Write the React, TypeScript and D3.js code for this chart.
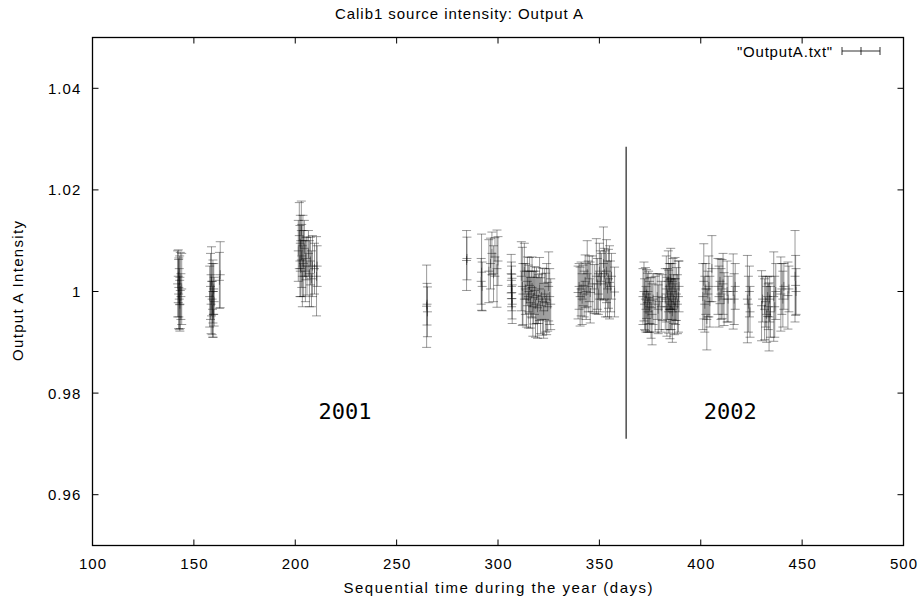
import React from 'react';
import * as d3 from 'd3';

// ---- axis definitions ----
const xDomain: [number, number] = [100, 500];
const yDomain: [number, number] = [0.95, 1.05];
const xTicks = [100, 150, 200, 250, 300, 350, 400, 450, 500];
const yTicks = [0.96, 0.98, 1.0, 1.02, 1.04];
const yTickLabels = ['0.96', '0.98', '1', '1.02', '1.04'];

const titleText = 'Calib1 source intensity: Output A';
const xLabel = 'Sequential time during the year (days)';
const yLabel = 'Output A Intensity';
const legendLabel = '"OutputA.txt"';

// year boundary marker and year annotations
const separator = { day: 363.2, from: 0.971, to: 1.0285 };
const yearLabels = [
  { text: '2001', day: 224.5, value: 0.9763 },
  { text: '2002', day: 414.5, value: 0.9763 },
];

// ---- observations: [day, intensity, error] ----
const obs2001: [number, number, number][] = [
  [142.0, 1.0015, 0.0065], [142.3, 1.003, 0.0052], [142.5, 0.9995, 0.0068], [142.6, 1.0008, 0.0058],
  [142.8, 0.9985, 0.006], [143.0, 1.0022, 0.0048], [143.1, 0.9975, 0.0053], [143.3, 1.0002, 0.0075],
  [143.6, 0.999, 0.0045], [144.0, 1.0005, 0.007],
  [157.8, 0.999, 0.006], [158.2, 1.001, 0.0065], [158.5, 0.9975, 0.0058], [158.7, 1.002, 0.0068],
  [159.0, 0.9985, 0.007], [159.2, 0.9965, 0.0055], [159.4, 1.0, 0.0062], [159.6, 0.9955, 0.0045],
  [159.8, 1.0005, 0.005], [160.0, 0.998, 0.0048], [163.0, 1.0033, 0.0065], [162.6, 1.0022, 0.0055],
  [201.5, 1.008, 0.006], [202.0, 1.011, 0.0065], [202.3, 1.006, 0.007], [202.5, 1.0095, 0.0055],
  [202.7, 1.0045, 0.0055], [203.0, 1.012, 0.0058], [203.2, 1.007, 0.0062], [203.5, 1.003, 0.006],
  [203.8, 1.01, 0.005], [204.0, 1.0055, 0.0065], [204.5, 1.0085, 0.0055], [205.0, 1.004, 0.006],
  [205.3, 1.0065, 0.0042], [205.8, 1.005, 0.0057], [206.5, 1.0075, 0.0045], [207.0, 1.0035, 0.0065],
  [207.5, 1.006, 0.0047], [208.0, 1.0025, 0.0055], [208.5, 1.005, 0.006], [209.5, 1.0045, 0.005],
  [210.5, 1.003, 0.0078], [210.8, 1.005, 0.004],
  [264.8, 0.9971, 0.0081], [265.0, 0.9975, 0.0041], [265.2, 0.996, 0.0049],
  [284.5, 1.0061, 0.0059], [284.7, 1.0065, 0.0042],
  [291.9, 1.0038, 0.0075], [291.7, 1.002, 0.0045], [292.2, 1.001, 0.0048],
  [295.5, 1.004, 0.0062], [296.3, 1.0055, 0.005], [297.0, 1.0075, 0.0042], [297.8, 1.0035, 0.0055],
  [298.5, 1.0068, 0.0038], [299.5, 1.0045, 0.0076], [300.0, 1.006, 0.0048],
  [306.5, 1.0035, 0.0038], [306.6, 1.0022, 0.0036], [306.7, 1.001, 0.004], [306.8, 0.9998, 0.0036],
  [306.9, 0.9986, 0.004], [307.0, 0.9975, 0.0038],
  [311.5, 1.003, 0.0068], [312.0, 1.001, 0.0077], [312.3, 0.9995, 0.006], [313.0, 1.004, 0.0055],
  [313.5, 1.0005, 0.005], [314.0, 0.9985, 0.0055], [314.5, 1.002, 0.0048], [315.0, 0.999, 0.0062],
  [315.3, 1.0, 0.004], [315.6, 1.0012, 0.0055], [316.0, 0.9978, 0.005], [316.4, 0.9995, 0.0045],
  [316.8, 1.0008, 0.006], [317.2, 0.997, 0.0058], [317.6, 0.9988, 0.0052], [318.0, 1.0002, 0.0047],
  [318.5, 0.9975, 0.0065], [319.0, 0.9992, 0.0055], [319.5, 0.9968, 0.006], [320.0, 0.9985, 0.0048],
  [320.5, 1.0005, 0.0062], [321.0, 0.9972, 0.0055], [321.5, 0.999, 0.0045], [322.0, 0.998, 0.0066],
  [322.5, 0.9962, 0.0054], [323.0, 0.9995, 0.005], [323.5, 0.9978, 0.0058], [324.0, 0.9985, 0.007],
  [324.5, 0.997, 0.0048], [325.0, 1.001, 0.0068], [325.5, 0.999, 0.0055], [326.0, 0.9975, 0.005],
  [339.5, 0.9998, 0.0052], [340.0, 1.001, 0.0045], [340.5, 0.999, 0.0058], [341.0, 1.0005, 0.0053],
  [341.5, 0.9985, 0.005], [342.0, 1.0012, 0.004], [342.5, 0.9995, 0.0045], [343.0, 1.002, 0.0052],
  [343.5, 1.0, 0.0055], [344.0, 1.0035, 0.0065], [344.5, 1.001, 0.005], [345.0, 1.0025, 0.0045],
  [345.5, 0.9998, 0.006], [346.5, 1.0015, 0.0055], [347.5, 1.0005, 0.0048], [348.5, 1.003, 0.0074],
  [349.0, 1.0015, 0.005], [349.5, 0.9995, 0.004], [350.0, 1.004, 0.0055], [350.5, 1.002, 0.006],
  [351.0, 1.003, 0.0045], [352.0, 1.0055, 0.0072], [352.5, 1.0035, 0.005], [353.0, 1.0015, 0.0065],
  [353.5, 1.004, 0.0062], [354.0, 1.0005, 0.0055], [354.5, 1.0025, 0.0058], [355.0, 1.0018, 0.0072],
  [355.5, 1.001, 0.005], [356.0, 1.003, 0.0045], [357.5, 0.9999, 0.0049],
];

const obs2002: [number, number, number][] = [
  [371.5, 0.999, 0.0055], [372.0, 1.0, 0.0058], [372.3, 0.9975, 0.005], [372.7, 0.9985, 0.0062],
  [373.0, 0.9965, 0.0045], [373.3, 0.9995, 0.0048], [373.7, 0.9978, 0.0058], [374.0, 0.996, 0.004],
  [374.3, 0.9988, 0.0052], [374.7, 0.997, 0.005], [375.0, 0.9982, 0.0045], [375.5, 0.9968, 0.006],
  [376.0, 0.9955, 0.006], [376.5, 0.9985, 0.005], [377.5, 0.9975, 0.0055], [378.5, 0.999, 0.0045],
  [379.0, 0.9965, 0.0048], [379.5, 0.998, 0.0055], [380.5, 0.997, 0.005], [381.0, 0.9988, 0.0045],
  [382.5, 0.9985, 0.006], [383.0, 1.0005, 0.0065], [383.3, 0.997, 0.0058], [383.6, 0.9995, 0.005],
  [384.0, 1.002, 0.006], [384.2, 0.998, 0.0062], [384.5, 1.001, 0.0045], [384.8, 0.9965, 0.0058],
  [385.0, 0.999, 0.0065], [385.2, 1.0025, 0.006], [385.5, 0.9975, 0.005], [385.8, 1.0, 0.0055],
  [386.0, 0.996, 0.006], [386.3, 1.0015, 0.005], [386.6, 0.9985, 0.0048], [387.0, 0.997, 0.0055],
  [387.3, 1.0005, 0.0062], [387.6, 0.998, 0.0045], [388.0, 0.9995, 0.0052], [388.5, 0.9975, 0.0058],
  [389.0, 0.999, 0.007], [389.3, 1.001, 0.005],
  [401.0, 0.999, 0.0065], [401.5, 1.002, 0.0074], [402.0, 0.9975, 0.0055], [402.5, 1.0005, 0.005],
  [403.0, 0.9945, 0.006], [403.5, 0.9995, 0.0045], [404.0, 1.001, 0.006], [404.5, 0.998, 0.005],
  [405.5, 1.0045, 0.0065],
  [408.5, 1.001, 0.0055], [409.0, 0.999, 0.006], [409.5, 1.002, 0.0044], [410.0, 0.9995, 0.005],
  [410.5, 1.0005, 0.0058], [411.0, 1.0015, 0.006], [411.5, 0.9985, 0.0052], [413.0, 1.0, 0.006],
  [413.5, 0.9985, 0.0045],
  [416.0, 1.0, 0.0074], [416.5, 0.9985, 0.005], [417.0, 1.001, 0.0045],
  [423.0, 0.9985, 0.0086], [423.5, 0.9975, 0.0055], [424.0, 1.0, 0.005], [424.3, 0.996, 0.005],
  [430.0, 0.9972, 0.0069], [430.5, 0.9985, 0.0045],
  [431.5, 0.9965, 0.006], [432.0, 0.998, 0.005], [432.5, 0.9955, 0.0055], [433.0, 0.999, 0.0039],
  [433.3, 0.997, 0.0045], [433.7, 0.995, 0.0067], [434.0, 0.9985, 0.0045], [434.4, 0.996, 0.005],
  [436.0, 0.999, 0.0088], [436.5, 0.997, 0.006], [437.0, 1.0, 0.0055],
  [439.5, 0.9995, 0.0073], [440.0, 1.0005, 0.005], [440.5, 0.9985, 0.0055], [441.0, 1.001, 0.0045],
  [443.0, 0.9992, 0.0066], [443.5, 1.0005, 0.0045],
  [446.5, 1.003, 0.009], [446.8, 1.0012, 0.0059], [447.0, 1.0, 0.0045],
];

const W = 919;
const H = 602;
const M = { left: 92.5, right: 903.5, top: 37.5, bottom: 545.5 };
const FONT = '"Liberation Sans", Arial, Helvetica, sans-serif';
const FS = 15;
const LS = 1.1;

export default function App() {
  const x = d3.scaleLinear().domain(xDomain).range([M.left, M.right]);
  const y = d3.scaleLinear().domain(yDomain).range([M.bottom, M.top]);
  const all = [...obs2001, ...obs2002];
  const cap = 4.5;
  const tick = 6;

  const barPath = (d: [number, number, number]) => {
    const px = x(d[0]);
    const yt = y(d[1] + d[2]);
    const yb = y(d[1] - d[2]);
    const yc = y(d[1]);
    return `M${px},${yt}V${yb}M${px - cap},${yt}H${px + cap}M${px - cap},${yb}H${px + cap}M${px - cap},${yc}H${px + cap}M${px},${yc - cap}V${yc + cap}`;
  };

  const legY = 51;
  const legX0 = 842;
  const legX1 = 880;

  return (
    <svg width={W} height={H} style={{ position: 'absolute', left: 0, top: 0, background: '#fff' }} fontFamily={FONT}>
      <rect x={0} y={0} width={W} height={H} fill="#fff" />
      <text x={459} y={18.5} textAnchor="middle" fontSize={FS} textLength={248} lengthAdjust="spacing" fill="#000">{titleText}</text>

      {/* data */}
      <g stroke="#000" strokeOpacity={0.4} strokeWidth={1} fill="none">
        {all.map((d, i) => (
          <path key={i} d={barPath(d)} />
        ))}
      </g>

      {/* separator */}
      <line x1={x(separator.day)} x2={x(separator.day)} y1={y(separator.to)} y2={y(separator.from)} stroke="#222" strokeWidth={1.2} />

      {yearLabels.map((l) => (
        <text key={l.text} x={x(l.day)} y={y(l.value)} textAnchor="middle" dominantBaseline="central" fontFamily='"DejaVu Sans Mono", monospace' fontSize={22} fill="#000">{l.text}</text>
      ))}

      {/* frame */}
      <rect x={M.left} y={M.top} width={M.right - M.left} height={M.bottom - M.top} fill="none" stroke="#000" strokeWidth={1.3} />

      {/* x ticks */}
      {xTicks.map((t) => (
        <g key={t}>
          <line x1={x(t)} x2={x(t)} y1={M.bottom} y2={M.bottom - tick} stroke="#000" />
          <line x1={x(t)} x2={x(t)} y1={M.top} y2={M.top + tick} stroke="#000" />
          <text x={x(t) + LS / 2} y={568.5} textAnchor="middle" fontSize={FS} letterSpacing={LS} fill="#000">{t}</text>
        </g>
      ))}

      {/* y ticks */}
      {yTicks.map((t, i) => (
        <g key={t}>
          <line x1={M.left} x2={M.left + tick} y1={y(t)} y2={y(t)} stroke="#000" />
          <line x1={M.right} x2={M.right - tick} y1={y(t)} y2={y(t)} stroke="#000" />
          <text x={81.5} y={y(t)} textAnchor="end" dominantBaseline="central" fontSize={FS} letterSpacing={LS} fill="#000">{yTickLabels[i]}</text>
        </g>
      ))}

      <text x={498} y={593} textAnchor="middle" fontSize={FS} textLength={309} lengthAdjust="spacing" fill="#000">{xLabel}</text>
      <text transform={`translate(23,291) rotate(-90)`} textAnchor="middle" fontSize={FS} textLength={140} lengthAdjust="spacing" fill="#000">{yLabel}</text>

      {/* legend */}
      <text x={833} y={legY} textAnchor="end" dominantBaseline="central" fontSize={FS} letterSpacing={0.8} fill="#000">{legendLabel}</text>
      <path d={`M${legX0},${legY}H${legX1}M${legX0},${legY - 4}V${legY + 4}M${legX1},${legY - 4}V${legY + 4}M${(legX0 + legX1) / 2},${legY - 4}V${legY + 4}`} stroke="#000" strokeOpacity={0.8} fill="none" />
    </svg>
  );
}
